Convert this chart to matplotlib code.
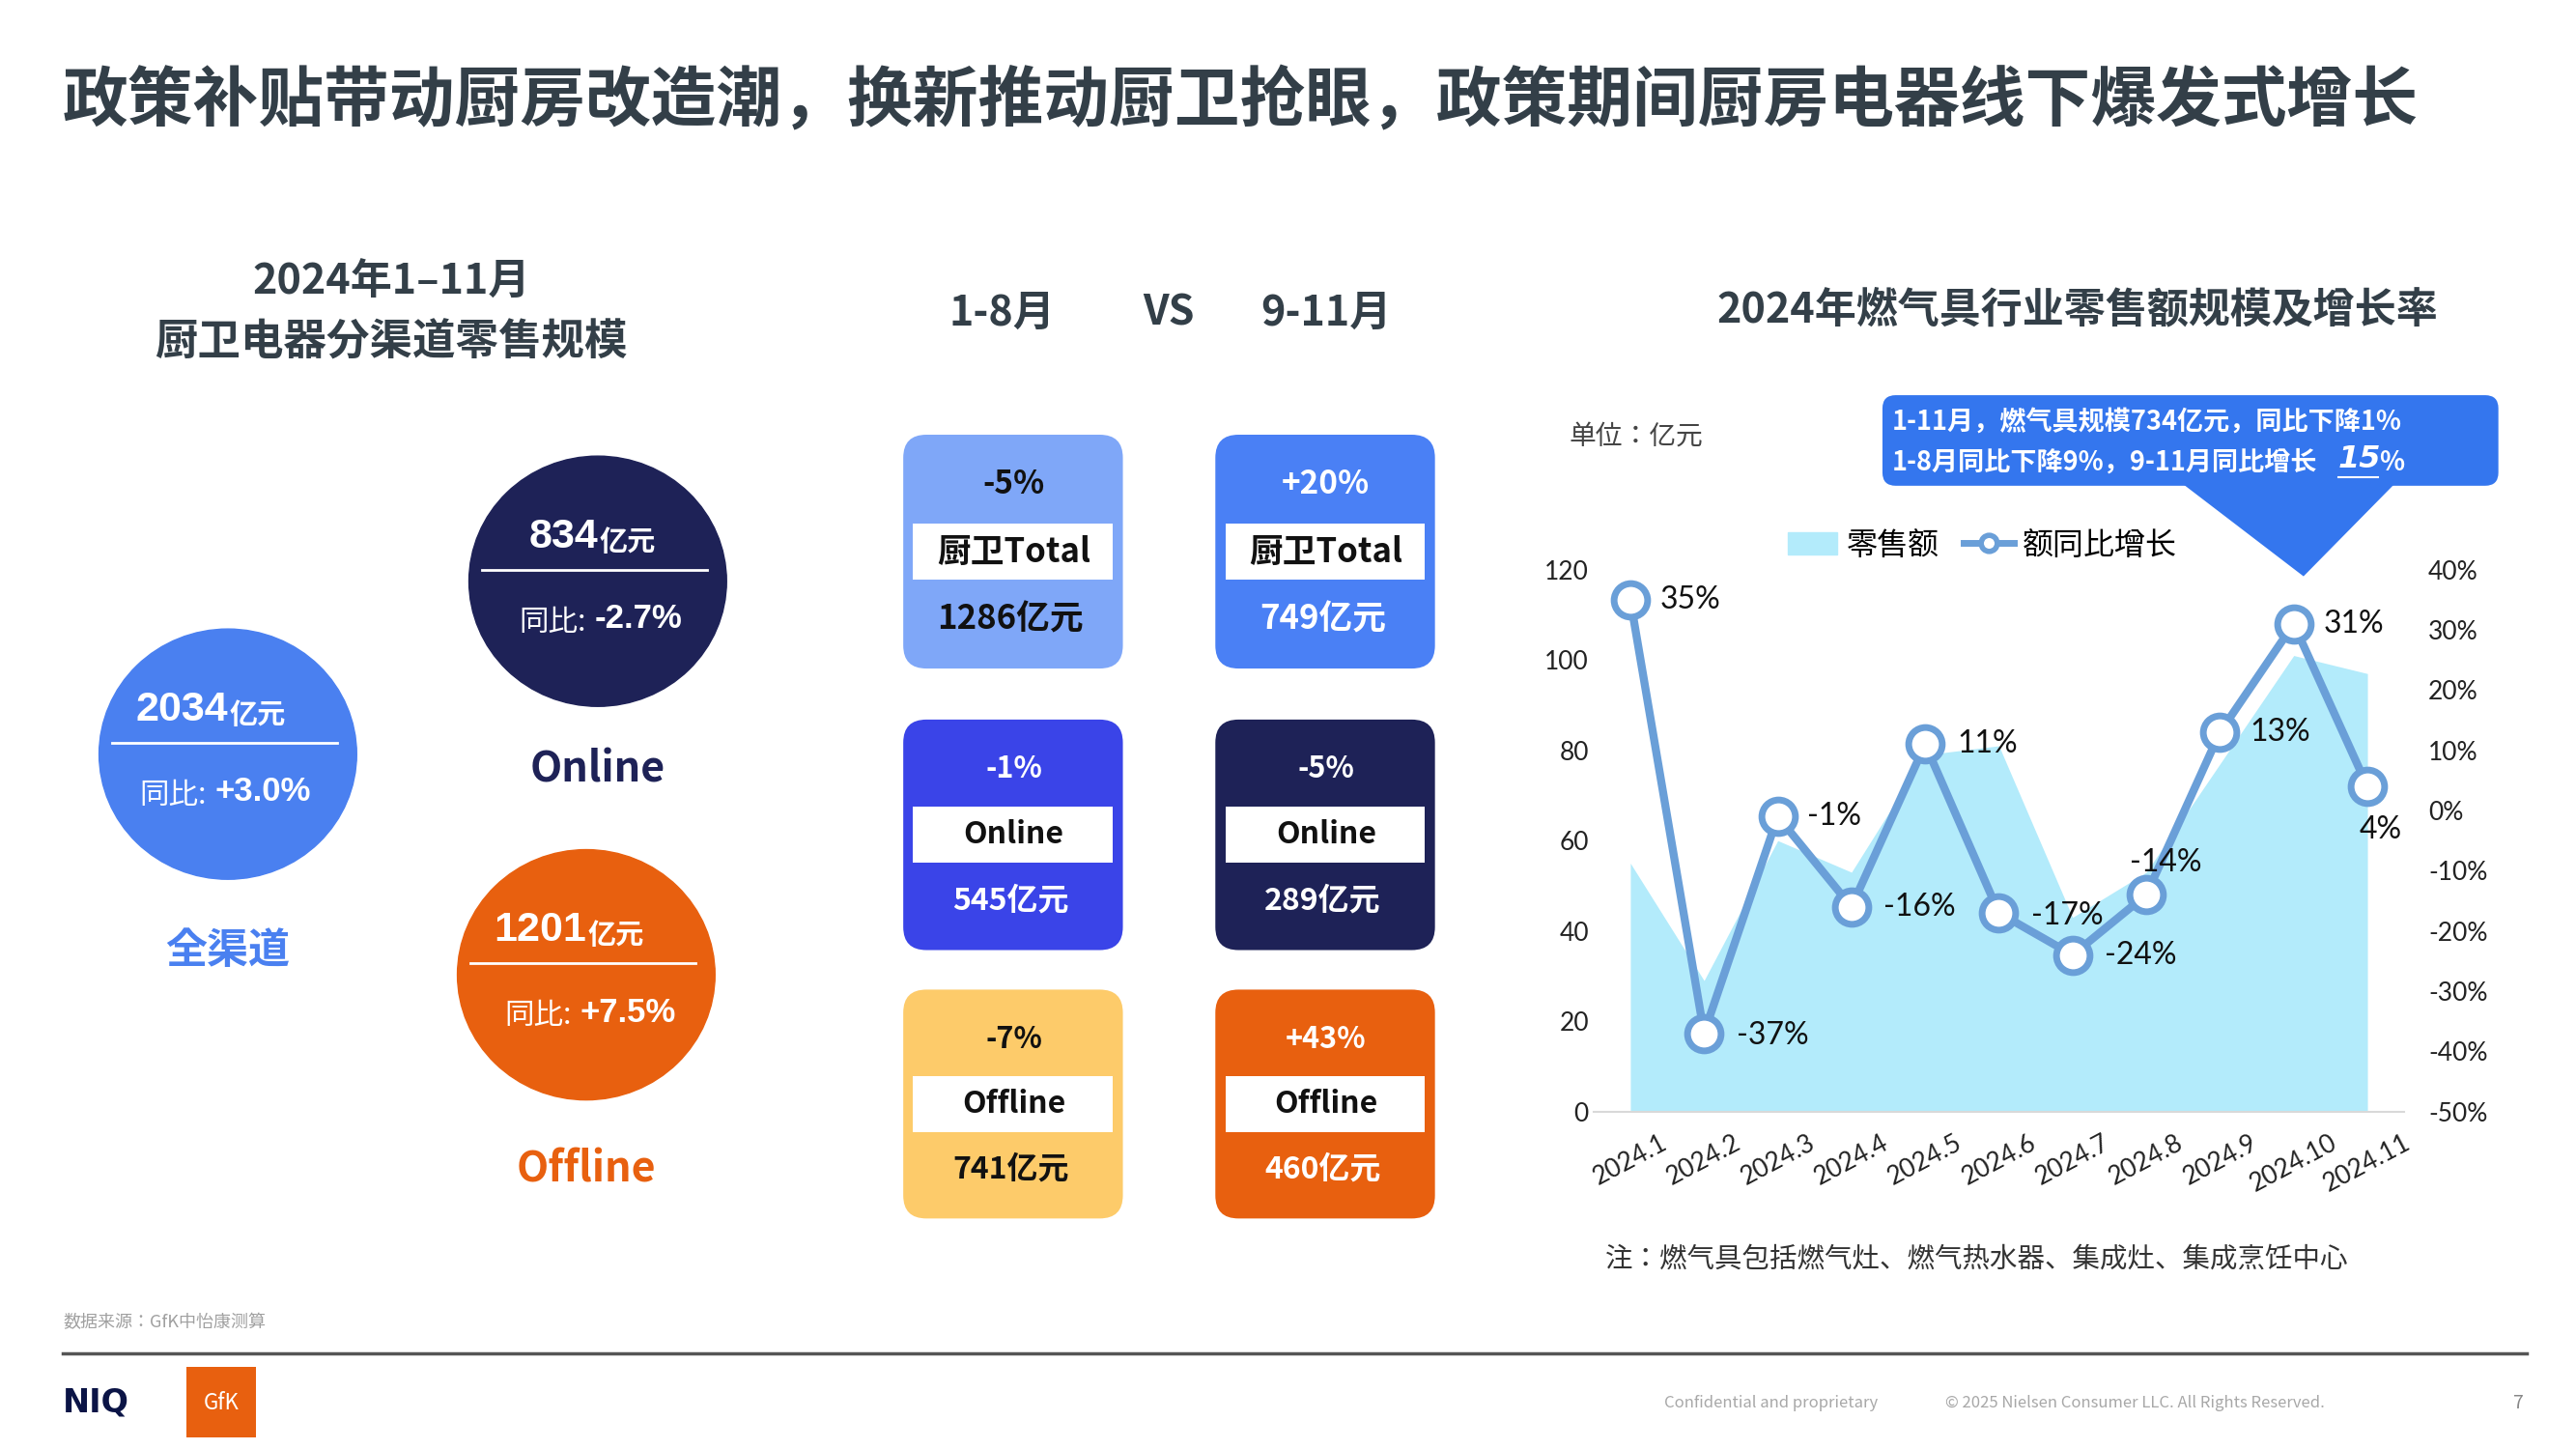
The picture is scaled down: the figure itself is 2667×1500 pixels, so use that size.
import matplotlib
matplotlib.use("Agg")
import matplotlib.pyplot as plt
from matplotlib import font_manager
from matplotlib.patches import FancyBboxPatch, Ellipse, Polygon, Patch, Rectangle, Arc
from matplotlib.lines import Line2D
from matplotlib.ticker import FuncFormatter

names = sorted({f.name for f in font_manager.fontManager.ttflist})
cjk = [n for n in names if 'CJK' in n and 'SC' in n] or [n for n in names if 'CJK' in n]
CJK = cjk[0] if cjk else 'DejaVu Sans'
plt.rcParams['font.family'] = [CJK, 'DejaVu Sans']
NUM = ['Liberation Sans', CJK]

# Data
months = ['2024.1', '2024.2', '2024.3', '2024.4', '2024.5', '2024.6',
          '2024.7', '2024.8', '2024.9', '2024.10', '2024.11']
retail_sales = [55, 29, 60, 53, 79, 81, 43, 53, 77, 101, 97]
yoy_growth = [35, -37, -1, -16, 11, -17, -24, -14, 13, 31, 4]

bubble_names = ['全渠道', 'Online', 'Offline']
bubble_values = ['2034', '834', '1201']
bubble_yoy = ['+3.0%', '-2.7%', '+7.5%']

box_periods = ['1-8月', '9-11月']
box_channels = ['厨卫Total', 'Online', 'Offline']
box_yoy = [['-5%', '-1%', '-7%'], ['+20%', '-5%', '+43%']]
box_values = [['1286亿元', '545亿元', '741亿元'], ['749亿元', '289亿元', '460亿元']]

AREA_C = '#B3EBFB'
LINE_C = '#6A9FD8'
DARK = '#333F48'

fig = plt.figure(figsize=(26.67, 15), dpi=100)

# ---- chart axes (right panel) ----
ax = fig.add_axes([965 / 1560, 1 - 675 / 880, 491 / 1560, 329 / 880])
x = list(range(len(months)))
ax.fill_between(x, retail_sales, 0, color=AREA_C, lw=0, zorder=1)
ax.set_xlim(-0.5, len(months) - 0.5)
ax.set_ylim(0, 120)
ax.set_yticks(range(0, 121, 20))
ax.set_xticks(x)
ax.set_xticklabels(months, rotation=28, fontsize=16, ha='center', family='Lato')
for t in ax.get_yticklabels():
    t.set_family('Lato')
ax.tick_params(length=0, labelsize=19, colors='#222222')
ax.tick_params(axis='x', pad=14)
for s in ['top', 'right', 'left']:
    ax.spines[s].set_visible(False)
ax.spines['bottom'].set_color('#D9D9D9')
ax.spines['bottom'].set_linewidth(1.5)
ax.patch.set_alpha(0)

ax2 = ax.twinx()
ax2.plot(x, yoy_growth, color=LINE_C, lw=6, marker='o', ms=25, mfc='white',
         mec=LINE_C, mew=5, zorder=3)
ax2.set_ylim(-50, 40)
ax2.set_yticks(range(-50, 41, 10))
ax2.yaxis.set_major_formatter(FuncFormatter(lambda v, p: f'{int(v)}%'))
ax2.tick_params(length=0, labelsize=19, colors='#222222', pad=18)
for t in ax2.get_yticklabels():
    t.set_family('Lato')
for s in ax2.spines.values():
    s.set_visible(False)

offsets = [(22, 0), (24, -2), (22, 0), (24, 0), (24, 0), (24, -2),
           (24, 0), (-12, 24), (22, 0), (22, 0), (-6, -32)]
for i, (v, off) in enumerate(zip(yoy_growth, offsets)):
    ax2.annotate(f'{v}%', (i, v), xytext=off, textcoords='offset points',
                 ha='left', va='center', fontsize=23, color='#111111',
                 family='Lato', zorder=4)

handles = [Patch(color=AREA_C, label='零售额'),
           Line2D([], [], color=LINE_C, lw=5, marker='o', ms=12, mfc='white',
                  mew=4, label='额同比增长')]
ax2.legend(handles=handles, loc='lower center', bbox_to_anchor=(0.48, 0.965),
           ncol=2, frameon=False, fontsize=23, handlelength=1.6,
           columnspacing=0.8, handletextpad=0.3)

# ---- background / annotation layer ----
bg = fig.add_axes([0, 0, 1, 1])
bg.set_xlim(0, 1560)
bg.set_ylim(880, 0)
bg.axis('off')
bg.patch.set_alpha(0)
bg.set_zorder(5)

bg.text(38, 62, '政策补贴带动厨房改造潮，换新推动厨卫抢眼，政策期间厨房电器线下爆发式增长',
        fontsize=48.8, fontweight='bold', color=DARK, va='center')

# left panel
bg.text(237, 171, '2024年1–11月', fontsize=31, color=DARK, ha='center', va='center', fontweight='bold')
bg.text(237, 208, '厨卫电器分渠道零售规模', fontsize=32, color=DARK, ha='center', va='center', fontweight='bold')

bub_colors = ['#4A80F0', '#1E2257', '#E8600F']
bub_centers = [(138, 458), (362, 353), (355, 592)]
bub_split = [128, 358, 349]
name_pos = [(138, 577), (362, 467), (355, 710)]
for i in range(3):
    cx, cy = bub_centers[i]
    c = bub_colors[i]
    bg.add_patch(Arc((cx + 2, cy + 8), 158, 150, theta1=215, theta2=310,
                     color='#B8C6DC', lw=3))
    bg.add_patch(Ellipse((cx, cy), 156, 152, color=c, zorder=2))
    bg.text(cx, cy - 27, bubble_values[i], fontsize=31, fontweight='bold',
            color='white', ha='right', va='center', family=NUM, zorder=3)
    bg.text(cx + 1, cy - 24, '亿元', fontsize=21, fontweight='bold',
            color='white', ha='left', va='center', zorder=3)
    bg.plot([cx - 70, cx + 66], [cy - 7, cy - 7], color='white', lw=2, zorder=3)
    sp = bub_split[i]
    bg.text(sp - 3, cy + 25, '同比:', fontsize=22, color='white',
            ha='right', va='center', zorder=3)
    bg.text(sp + 2, cy + 23, bubble_yoy[i], fontsize=25, fontweight='bold',
            color='white', ha='left', va='center', family=NUM, zorder=3)
    bg.text(name_pos[i][0], name_pos[i][1], bubble_names[i], fontsize=31,
            fontweight='bold', color=c, ha='center', va='center')

# middle panel
bg.text(607, 190, box_periods[0], fontsize=31, fontweight='bold', color=DARK, ha='center', va='center')
bg.text(708, 190, 'VS', fontsize=31, fontweight='bold', color=DARK, ha='center', va='center')
bg.text(803, 190, box_periods[1], fontsize=31, fontweight='bold', color=DARK, ha='center', va='center')

box_colors = [['#7FA7F8', '#3A44E8', '#FDCB6A'], ['#4A80F5', '#1E2257', '#E8600F']]
box_text_c = [['#111111', 'white', '#111111'], ['white', 'white', 'white']]
col_x = [547, 736]
row_y = [(264, 406), (437, 577), (601, 740)]
for c in range(2):
    for r in range(3):
        x0 = col_x[c]
        y0, y1 = row_y[r]
        bg.add_patch(FancyBboxPatch((x0, y0), 133, y1 - y0,
                                    boxstyle='round,pad=0,rounding_size=14',
                                    fc=box_colors[c][r], ec='none'))
        ym = (y0 + y1) / 2
        bg.add_patch(Rectangle((x0 + 6, ym - 17), 121, 34, fc='white', ec='none'))
        bg.text(x0 + 67, ym, box_channels[r], fontsize=25 if r == 0 else 23,
                fontweight='bold', color='#111111', ha='center', va='center')
        bg.text(x0 + 67, y0 + 30, box_yoy[c][r], fontsize=24 if r == 0 else 22,
                fontweight='bold', color=box_text_c[c][r], ha='center', va='center')
        bg.text(x0 + 65, y1 - 30, box_values[c][r], fontsize=25 if r == 0 else 23,
                fontweight='bold', color=box_text_c[c][r], ha='center', va='center')

# right panel texts
bg.text(1258, 188, '2024年燃气具行业零售额规模及增长率', fontsize=31, fontweight='bold',
        color=DARK, ha='center', va='center')
bg.text(950, 265, '单位：亿元', fontsize=20, color='#444444', va='center')
bg.add_patch(FancyBboxPatch((1140, 240), 373, 55, boxstyle='round,pad=0,rounding_size=8',
                            fc='#3476EE', ec='none', zorder=6))
bg.add_patch(Polygon([(1322, 294), (1450, 294), (1395, 350)], closed=True,
                     fc='#3476EE', ec='none', zorder=6))
bg.text(1146, 256, '1-11月，燃气具规模734亿元，同比下降1%', fontsize=19.5,
        fontweight='bold', color='white', va='center', zorder=7)
bg.text(1146, 281, '1-8月同比下降9%，9-11月同比增长', fontsize=19.5,
        fontweight='bold', color='white', va='center', zorder=7)
bg.text(1416, 279, '15', fontsize=23, fontweight='bold', fontstyle='italic',
        color='white', va='center', ha='left', family='DejaVu Sans', zorder=7)
bg.text(1441, 281, '%', fontsize=19.5, fontweight='bold',
        color='white', va='center', zorder=7)
bg.plot([1416, 1440], [290, 290], color='white', lw=1.5, zorder=7)
bg.text(972, 765, '注：燃气具包括燃气灶、燃气热水器、集成灶、集成烹饪中心', fontsize=20.5,
        color='#333333', va='center')

# footer
bg.text(38, 803, '数据来源：GfK中怡康测算', fontsize=13, color='#A0A0A0', va='center')
bg.plot([38, 1530], [822, 822], color='#555555', lw=2.5)
bg.text(38, 852, 'NIQ', fontsize=24, fontweight='bold', color='#0B1446', va='center',
        family='DejaVu Sans')
bg.add_patch(Rectangle((113, 830), 42, 43, fc='#E8600F', ec='none'))
bg.text(134, 852, 'GfK', fontsize=16, color='white', ha='center', va='center')
bg.text(1008, 852, 'Confidential and proprietary', fontsize=12, color='#A8A8A8', va='center')
bg.text(1178, 852, '© 2025 Nielsen Consumer LLC. All Rights Reserved.', fontsize=12,
        color='#A8A8A8', va='center')
bg.text(1525, 852, '7', fontsize=14, color='#888888', va='center', ha='center')

fig.savefig('out.png', dpi=100)
